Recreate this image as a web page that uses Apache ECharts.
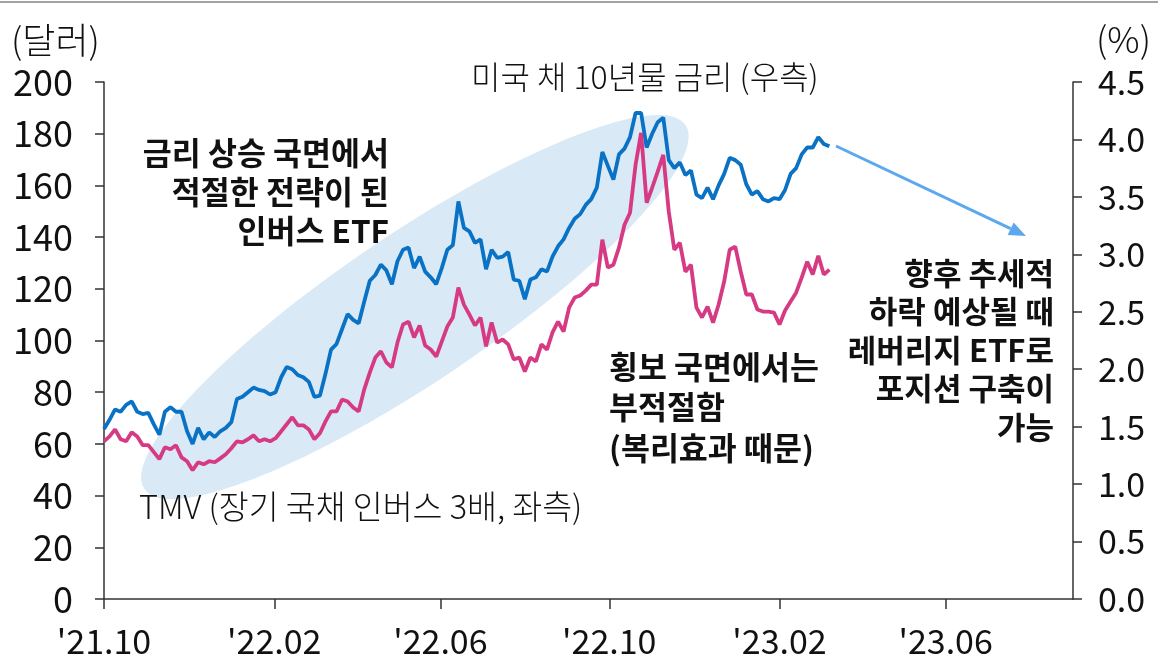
<!DOCTYPE html>
<html>
<head>
<meta charset="utf-8">
<script src="https://cdn.jsdelivr.net/npm/echarts@6/dist/echarts.min.js"></script>
<style>
  html, body { margin: 0; padding: 0; background: #fff; }
  #chart { width: 1158px; height: 658px; }
</style>
</head>
<body>
<div id="chart"></div>
<script>
// 데이터: 2021-10-01부터 4일 간격
const startDate = [2021, 10, 1];
const stepDays = 4;

// 미국 채 10년물 금리 (%, 우측)
const yieldValues = [
  1.48, 1.56, 1.65, 1.63, 1.69, 1.72, 1.63, 1.61, 1.62, 1.52,
  1.43, 1.63, 1.67, 1.63, 1.63, 1.46, 1.35, 1.49, 1.39, 1.45,
  1.41, 1.46, 1.49, 1.54, 1.74, 1.76, 1.80, 1.84, 1.82, 1.81,
  1.78, 1.80, 1.93, 2.02, 2.00, 1.95, 1.93, 1.89, 1.76, 1.77,
  1.96, 2.17, 2.22, 2.35, 2.48, 2.43, 2.40, 2.59, 2.77, 2.82,
  2.91, 2.86, 2.74, 2.94, 3.04, 3.06, 2.88, 2.98, 2.85, 2.80,
  2.74, 2.88, 3.04, 3.08, 3.46, 3.23, 3.20, 3.10, 3.13, 2.87,
  3.04, 2.97, 2.98, 3.02, 2.78, 2.77, 2.61, 2.78, 2.80, 2.87,
  2.85, 2.98, 3.07, 3.13, 3.23, 3.31, 3.35, 3.43, 3.48, 3.58,
  3.89, 3.77, 3.65, 3.87, 3.92, 4.02, 4.23, 4.23, 3.93, 4.05,
  4.15, 4.19, 3.82, 3.75, 3.80, 3.69, 3.73, 3.52, 3.49, 3.58,
  3.48, 3.60, 3.70, 3.84, 3.82, 3.78, 3.61, 3.52, 3.55, 3.48,
  3.46, 3.49, 3.48, 3.56, 3.70, 3.75, 3.87, 3.93, 3.93, 4.02,
  3.96, 3.94
];

// TMV (달러, 좌측)
const tmvValues = [
  61.0, 62.9, 65.6, 61.8, 61.0, 64.5, 62.9, 59.5, 59.5, 56.8,
  54.1, 58.7, 57.9, 59.5, 54.8, 53.3, 49.8, 52.9, 52.1, 53.3,
  52.9, 54.4, 56.0, 58.3, 61.0, 60.6, 61.8, 63.3, 61.0, 61.8,
  61.0, 62.2, 64.9, 67.6, 70.3, 67.2, 67.2, 65.6, 61.8, 64.1,
  68.7, 72.6, 72.6, 77.2, 76.4, 74.1, 72.6, 81.1, 87.6, 93.4,
  95.8, 91.5, 89.6, 99.2, 106.2, 107.3, 101.2, 105.8, 98.1, 96.5,
  93.8, 99.6, 105.4, 108.9, 120.5, 113.9, 110.0, 105.8, 108.9, 97.7,
  107.0, 99.2, 100.4, 98.5, 92.7, 93.4, 88.0, 93.4, 91.9, 98.5,
  96.5, 103.1, 107.3, 103.5, 112.7, 116.6, 117.4, 119.3, 121.6, 121.6,
  139.0, 128.2, 129.3, 135.9, 144.8, 149.4, 168.0, 180.3, 153.3, 159.1,
  165.3, 171.8, 149.8, 135.1, 137.8, 126.6, 129.3, 112.7, 108.9, 113.1,
  106.9, 113.9, 122.8, 135.1, 136.3, 126.6, 117.8, 117.8, 112.0, 111.2,
  111.2, 110.8, 106.2, 111.6, 115.1, 118.5, 124.3, 130.5, 125.5, 132.8,
  125.5, 127.4
];

const tickMonths = [[2021, 10], [2022, 2], [2022, 6], [2022, 10], [2023, 2], [2023, 6]];
const tickLabels = ["'21.10", "'22.02", "'22.06", "'22.10", "'23.02", "'23.06"];
const axisRange = [[2021, 10], [2023, 9]];

const ts = (y, m, d) => new Date(y, m - 1, d || 1).getTime();
const dates = yieldValues.map((_, i) => ts(startDate[0], startDate[1], startDate[2] + i * stepDays));
const tickValues = tickMonths.map(([y, m]) => ts(y, m));

const FONT = "'Noto Sans CJK KR', 'Noto Sans', sans-serif";
const AXIS_COLOR = '#333';
const BLUE = '#0a72c4';
const PINK = '#d63a82';
const ARROW = '#5ba8ee';

const chart = echarts.init(document.getElementById('chart'));

const arrowFrom = [836, 146];
const arrowTo = [1026, 236];
const ang = Math.atan2(arrowTo[1] - arrowFrom[1], arrowTo[0] - arrowFrom[0]);
const headLen = 17, headHalf = 7;
const baseX = arrowTo[0] - headLen * Math.cos(ang);
const baseY = arrowTo[1] - headLen * Math.sin(ang);
const arrowHead = [
  arrowTo,
  [baseX + headHalf * Math.sin(ang), baseY - headHalf * Math.cos(ang)],
  [baseX - headHalf * Math.sin(ang), baseY + headHalf * Math.cos(ang)]
];

const textStyle = (size, weight) => ({ fontFamily: FONT, fontSize: size, fontWeight: weight, fill: '#111' });

chart.setOption({
  animation: false,
  grid: { left: 104, right: 85, top: 82, bottom: 58 },
  xAxis: {
    type: 'value',
    min: ts(axisRange[0][0], axisRange[0][1]),
    max: ts(axisRange[1][0], axisRange[1][1]),
    splitLine: { show: false },
    axisLine: { onZero: false, lineStyle: { color: AXIS_COLOR, width: 1.5 } },
    axisTick: { show: true, length: 10, customValues: tickValues, lineStyle: { color: AXIS_COLOR, width: 1.5 } },
    axisLabel: {
      customValues: tickValues,
      margin: 25,
      fontFamily: FONT, fontSize: 34, color: '#111',
      formatter: (v) => {
        const i = tickValues.findIndex(t => Math.abs(t - v) < 86400000);
        return i >= 0 ? tickLabels[i] : '';
      }
    }
  },
  yAxis: [
    {
      type: 'value', min: 0, max: 200, interval: 20,
      splitLine: { show: false },
      axisLine: { show: true, lineStyle: { color: AXIS_COLOR, width: 1.5 } },
      axisTick: { show: true, length: 9, lineStyle: { color: AXIS_COLOR, width: 1.5 } },
      axisLabel: { margin: 31, fontFamily: FONT, fontSize: 36, color: '#111' }
    },
    {
      type: 'value', min: 0, max: 4.5, interval: 0.5,
      splitLine: { show: false },
      axisLine: { show: true, lineStyle: { color: AXIS_COLOR, width: 1.5 } },
      axisTick: { show: true, length: 9, lineStyle: { color: AXIS_COLOR, width: 1.5 } },
      axisLabel: { margin: 25, fontFamily: FONT, fontSize: 34, color: '#111', formatter: v => v.toFixed(1) }
    }
  ],
  series: [
    {
      name: '미국 채 10년물 금리', type: 'line', yAxisIndex: 1,
      data: dates.map((d, i) => [d, yieldValues[i]]),
      showSymbol: false, lineStyle: { color: BLUE, width: 3.8 }, z: 3
    },
    {
      name: 'TMV', type: 'line', yAxisIndex: 0,
      data: dates.map((d, i) => [d, tmvValues[i]]),
      showSymbol: false, lineStyle: { color: PINK, width: 3.8 }, z: 4
    }
  ],
  graphic: [
    { type: 'line', shape: { x1: 0, y1: 2, x2: 1158, y2: 2 }, style: { stroke: '#a3a3a3', lineWidth: 2 }, z: 0 },
    {
      type: 'ellipse', x: 415, y: 307, rotation: 0.592,
      shape: { cx: 0, cy: 0, rx: 326, ry: 74 },
      style: { fill: '#d9e9f5' }, z: -10
    },
    { type: 'line', shape: { x1: arrowFrom[0], y1: arrowFrom[1], x2: baseX, y2: baseY }, style: { stroke: ARROW, lineWidth: 3 }, z: 5 },
    { type: 'polygon', shape: { points: arrowHead }, style: { fill: ARROW }, z: 5 },
    { type: 'text', x: 11, y: 40, style: Object.assign({ text: '(달러)', align: 'left', verticalAlign: 'middle' }, textStyle(36, 300)) },
    { type: 'text', x: 1151, y: 39, style: Object.assign({ text: '(%)', align: 'right', verticalAlign: 'middle' }, textStyle(36, 300)) },
    { type: 'text', x: 471, y: 77, style: Object.assign({ text: '미국 채 10년물 금리 (우측)', align: 'left', verticalAlign: 'middle' }, textStyle(32, 300)) },
    { type: 'text', x: 139, y: 507, style: Object.assign({ text: 'TMV (장기 국채 인버스 3배, 좌측)', align: 'left', verticalAlign: 'middle' }, textStyle(32.5, 300)) },
    {
      type: 'text', x: 389, y: 133.5,
      style: Object.assign({ text: '금리 상승 국면에서\n적절한 전략이 된\n인버스 ETF', align: 'right', verticalAlign: 'top', lineHeight: 39 }, textStyle(31.5, 'bold'))
    },
    {
      type: 'text', x: 609, y: 346.5,
      style: Object.assign({ text: '횡보 국면에서는\n부적절함\n(복리효과 때문)', align: 'left', verticalAlign: 'top', lineHeight: 40.5 }, textStyle(31.5, 'bold'))
    },
    {
      type: 'text', x: 1054, y: 253.5,
      style: Object.assign({ text: '향후 추세적\n하락 예상될 때\n레버리지 ETF로\n포지션 구축이\n가능', align: 'right', verticalAlign: 'top', lineHeight: 38.5 }, textStyle(31, 'bold'))
    }
  ]
});
</script>
</body>
</html>
